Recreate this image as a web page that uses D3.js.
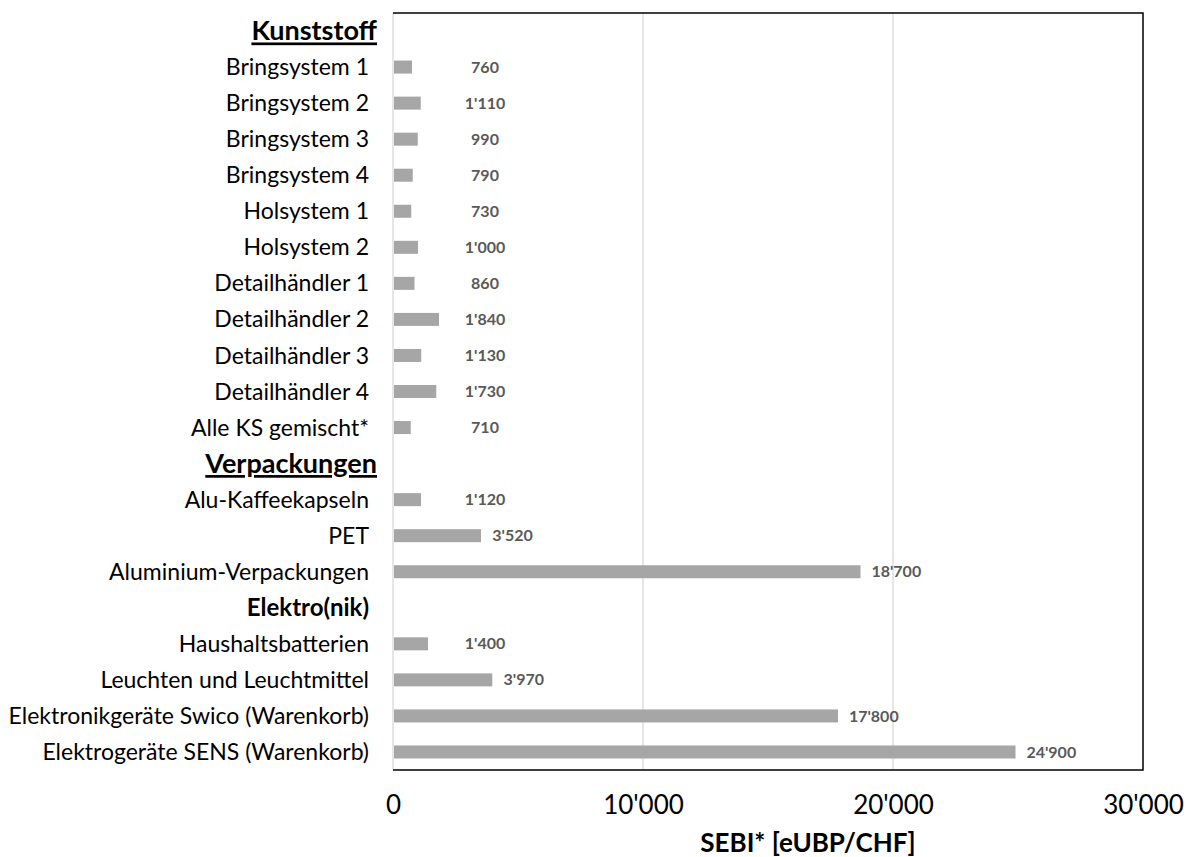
<!DOCTYPE html>
<html lang='de'>
<head>
	<meta charset='utf-8'>
	<title>SEBI</title>
	<script src="https://d3js.org/d3.v7.min.js"></script>
	<style>
		body{margin:0;background:#fff;}
		text{font-family:Lato,"Liberation Sans",sans-serif;}
	</style>
</head>
<body>
<div id='chart'></div>
<script type='text/javascript'>
	// rows from top to bottom, headers have no value
	const categories = ["Kunststoff","Bringsystem 1","Bringsystem 2","Bringsystem 3","Bringsystem 4","Holsystem 1","Holsystem 2",
		"Detailhändler 1","Detailhändler 2","Detailhändler 3","Detailhändler 4","Alle KS gemischt*",
		"Verpackungen","Alu-Kaffeekapseln","PET","Aluminium-Verpackungen",
		"Elektro(nik)","Haushaltsbatterien","Leuchten und Leuchtmittel","Elektronikgeräte Swico (Warenkorb)","Elektrogeräte SENS (Warenkorb)"]
	const values = [null,760,1110,990,790,730,1000,860,1840,1130,1730,710,null,1120,3520,18700,null,1400,3970,17800,24900]
	const headers = ["Kunststoff","Verpackungen","Elektro(nik)"]
	const underlined = ["Kunststoff","Verpackungen"]
	const xTicks = [0,10000,20000,30000]
	const xTitle = "SEBI* [eUBP/CHF]"

	const svg_block = {width:1187,height:857}
	let margin = {top:13,right:44,bottom:87,left:393};
	let width = svg_block.width - margin.left - margin.right;
	let height = svg_block.height - margin.top - margin.bottom;

	let fmt = function(v){ return d3.format(",")(v).replace(/,/g,"'"); }

	let svg = d3.select("#chart")
				.append("svg")
					.attr("width",svg_block.width)
					.attr("height",svg_block.height)
				.append("g")
					.attr("transform",`translate(${margin.left},${margin.top})`);

	let x = d3.scaleLinear().domain([0,30000]).range([0,width]);
	let y = d3.scaleBand().domain(categories).range([0,height]);

	// gridlines (the one at zero works as the light left edge)
	svg.append("g")
		.selectAll("line")
		.data(xTicks.slice(0,3))
		.enter()
		.append("line")
			.attr("x1",d=>x(d)).attr("x2",d=>x(d))
			.attr("y1",0).attr("y2",height)
			.attr("stroke","#d9d9d9").attr("stroke-width",1.3);

	// frame: top, right, bottom black
	svg.append("path")
		.attr("d",`M0,0H${width}V${height}H0`)
		.attr("fill","none").attr("stroke","#000").attr("stroke-width",1.5);

	// bars
	let data = categories.map((c,i)=>({name:c,value:values[i]}));
	let barH = 13;
	svg.append("g")
		.selectAll("rect")
		.data(data.filter(d=>d.value!==null))
		.enter()
		.append("rect")
			.attr("x",x(0)+1)
			.attr("y",d=>y(d.name)+y.bandwidth()/2-barH/2)
			.attr("width",d=>x(d.value)-x(0)-1)
			.attr("height",barH)
			.attr("fill","#a6a6a6");

	// value labels
	svg.append("g")
		.selectAll("text")
		.data(data.filter(d=>d.value!==null))
		.enter()
		.append("text")
			.attr("x",d=>Math.max(x(d.value)+10+fmt(d.value).length*4.3, 92))
			.attr("y",d=>y(d.name)+y.bandwidth()/2)
			.attr("dy","0.35em")
			.style("text-anchor","middle")
			.style("font-size","16px")
			.style("font-weight","bold")
			.style("fill","#595959")
			.text(d=>fmt(d.value));

	// category labels
	svg.append("g")
		.selectAll("text")
		.data(data)
		.enter()
		.append("text")
			.attr("x",d=>underlined.includes(d.name) ? -16 : -24)
			.attr("y",d=>y(d.name)+y.bandwidth()/2)
			.attr("dy","0.35em")
			.style("text-anchor","end")
			.style("font-size",d=>underlined.includes(d.name) ? "27px" : (headers.includes(d.name) ? "24px" : "23px"))
			.style("font-weight",d=>headers.includes(d.name) ? "bold" : "normal")
			.style("text-decoration",d=>underlined.includes(d.name) ? "underline" : "none")
			.style("fill","#000")
			.text(d=>d.name);

	// x axis
	let xAxis = svg.append("g")
		.attr("transform",`translate(0,${height})`)
		.call(d3.axisBottom(x).tickValues(xTicks).tickFormat(fmt).tickSize(0).tickPadding(26));
	xAxis.select(".domain").remove();
	xAxis.selectAll("text")
		.style("font-family","Lato, sans-serif")
		.style("font-size","26px")
		.style("fill","#000");

	svg.append("text")
		.attr("x",415)
		.attr("y",height+82)
		.style("text-anchor","middle")
		.style("font-size","26px")
		.style("font-weight","bold")
		.text(xTitle);
</script>
</body>
</html>
